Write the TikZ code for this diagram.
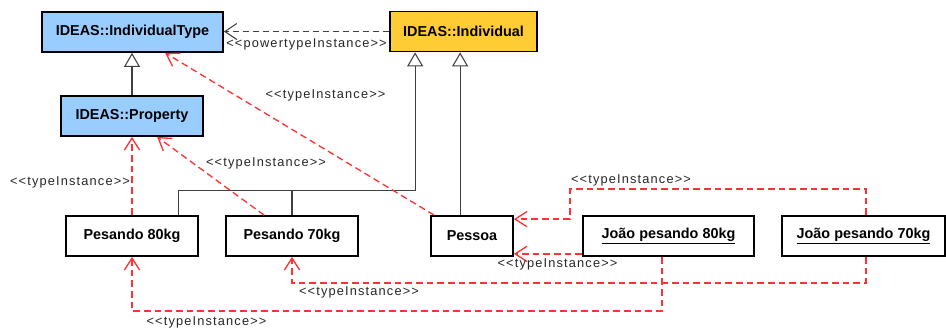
\documentclass[tikz,border=0pt]{standalone}
\usepackage{fontspec}
\setmainfont{Liberation Sans}
\newfontfamily\stereofont[LetterSpace=9]{Liberation Sans}
\usetikzlibrary{arrows.meta,calc}
\definecolor{typeblue}{HTML}{99CCFF}
\definecolor{indgold}{HTML}{FFCC33}
\definecolor{realred}{HTML}{FF3333}
\definecolor{lineg}{HTML}{404040}

\tikzset{
  cls/.style={draw=black, line width=1.3pt, fill=white,
    font=\fontsize{10.8}{12}\selectfont\bfseries,
    inner sep=0pt, minimum height=30pt},
  gen/.style={draw=lineg, line width=0.8pt,
    -{Triangle[open,width=12pt,length=10.5pt,fill=white]}},
  genline/.style={draw=lineg, line width=0.8pt},
  inst/.style={draw=realred, line width=1pt, dash pattern=on 5pt off 3pt,
    -{Straight Barb[length=9pt,width=11.5pt]}},
  power/.style={draw=lineg, line width=0.8pt, dash pattern=on 4.5pt off 3pt,
    -{Straight Barb[length=9pt,width=12pt]}},
  stereo/.style={font=\stereofont\fontsize{9.6}{10}\selectfont, text=black!85, inner sep=0pt},
}

\begin{document}
\begin{tikzpicture}[x=0.75pt,y=-0.75pt]
\useasboundingbox (0,0) rectangle (946,333);

% classes
\node[cls, fill=typeblue, minimum width=135.75pt] (IT)   at (132.5,32) {IDEAS::IndividualType};
\node[cls, fill=typeblue, minimum width=106.5pt]  (Prop) at (132,116)  {IDEAS::Property};
\node[cls, fill=indgold,  minimum width=110.25pt] (Ind)  at (463.5,31.5) {IDEAS::Individual};

\node[cls, minimum width=99pt]    (P80)    at (132,236)   {Pesando 80kg};
\node[cls, minimum width=99pt]    (P70)    at (292,236)   {Pesando 70kg};
\node[cls, minimum width=61.5pt]  (Pessoa) at (472,236)   {Pessoa};
% objects
\node[cls, minimum width=128.25pt] (J80)   at (668.5,236) {\underline{João pesando 80kg}};
\node[cls, minimum width=122.25pt] (J70)   at (863.5,236) {\underline{João pesando 70kg}};

% generalizations
\draw[gen] (Prop.north) -- (Prop.north |- IT.south);
\coordinate (bus) at ($(Ind.south west)+(26,138)$);
\draw[gen] ($(P80.north west)+(113,0)$) |- (bus) -- (bus |- Ind.south);
\draw[genline] (P70.north) -- (P70.north |- bus);
\coordinate (ind2) at ($(Ind.south west)+(71,0)$);
\draw[gen] (ind2 |- Pessoa.north) -- (ind2);

% powertype instance
\draw[power] (Ind.west) -- (Ind.west -| IT.east);
\node[stereo] (lp) at (306.5,44) {<<powertypeInstance>>};

% type instances
\draw[inst] ($(Pessoa.north west)+(4,0)$) -- ($(IT.south west)+(124,0)$);
\node[stereo] (l1) at (325.5,95) {<<typeInstance>>};

\draw[inst] ($(P70.north west)+(39,0)$) -- ($(Prop.south west)+(97,0)$);
\node[stereo] (l2) at (266,163) {<<typeInstance>>};

\draw[inst] (P80.north) -- (Prop.south);
\node[stereo] (l3) at (70,182) {<<typeInstance>>};

\draw[inst] ($(J70.north west)+(85,0)$) -- ++(0,-26) -| ($(Pessoa.north east)+(56,4)$) -- ($(Pessoa.north east)+(0,4)$);
\node[stereo] (l4) at (631,180) {<<typeInstance>>};

\draw[inst] ($(J80.south west)+(0,-3)$) -- ($(Pessoa.south east)+(0,-3)$);
\node[stereo] (l5) at (557.5,264) {<<typeInstance>>};

\draw[inst] ($(J70.south west)+(85,0)$) -- ++(0,26) -| (P70.south);
\node[stereo] (l6) at (359,292) {<<typeInstance>>};

\draw[inst] ($(J80.south west)+(80,0)$) -- ++(0,54) -| (P80.south);
\node[stereo] (l7) at (206.5,322) {<<typeInstance>>};
\end{tikzpicture}
\end{document}
